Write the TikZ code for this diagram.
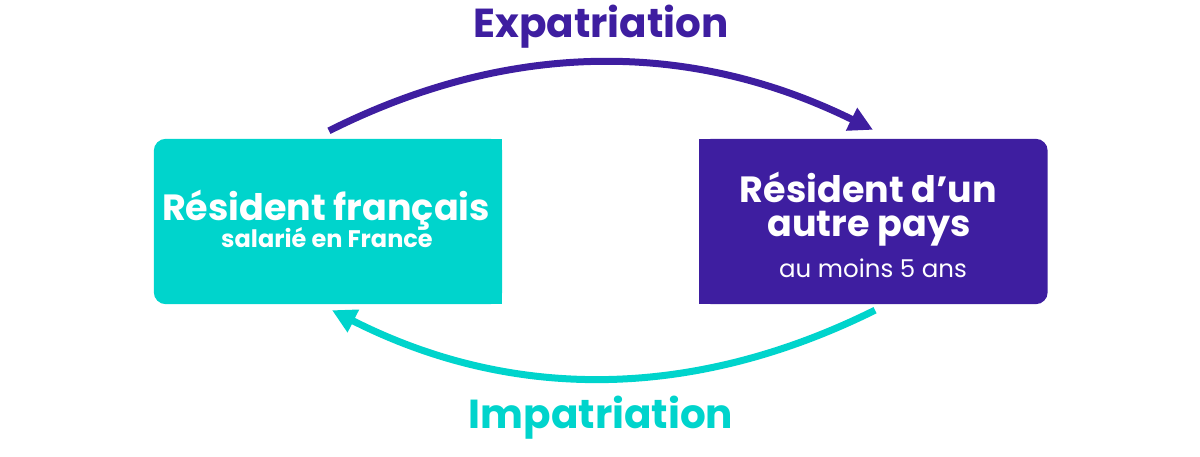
\documentclass[tikz,border=0pt]{standalone}
\usepackage{fontspec}
\setmainfont{Poppins}
\usetikzlibrary{arrows.meta}
\definecolor{tealc}{RGB}{0,212,204}
\definecolor{purpc}{RGB}{62,30,160}
\tikzset{
  boxnode/.style={minimum width=348pt, minimum height=165pt, inner sep=0pt},
  maintxt/.style={text=white, font=\bfseries\fontsize{36.5}{40}\selectfont, anchor=base, inner sep=0pt},
  subtxt/.style={text=white, font=\bfseries\fontsize{24}{28}\selectfont, anchor=base, inner sep=0pt},
  regtxt/.style={text=white, font=\fontsize{24.5}{28}\selectfont, anchor=base, inner sep=0pt},
  ttl/.style={font=\bfseries\fontsize{40.5}{44}\selectfont, anchor=base, inner sep=0pt},
  arr/.style={line width=7pt, -{Triangle[length=24pt,width=24pt]}}
}
\begin{document}
\begin{tikzpicture}[x=1pt,y=1pt]
\useasboundingbox (0,0) rectangle (1200,456);
% boxes
\node[boxnode] (L) at (328,234.5) {};
\node[boxnode] (R) at (873.5,234.5) {};
\fill[tealc, rounded corners=12pt] (L.south west) rectangle (L.north east);
\fill[tealc] (L.south) rectangle (L.north east);
\fill[purpc, rounded corners=12pt] (R.south west) rectangle (R.north east);
\fill[purpc] (R.south west) rectangle (R.north);
% texts
\node[maintxt] (l1) at (326,236) {Résident français};
\node[subtxt] (l2) at (327,208) {salarié en France};
\node[maintxt] (r1) at (868.5,254) {Résident d’un};
\node[maintxt] (r2) at (869,219) {autre pays};
\node[regtxt] (r3) at (873,179) {au moins 5 ans};
\node[ttl, text=purpc] (t1) at (601,418) {Expatriation};
\node[ttl, text=tealc] (t2) at (601,28) {Impatriation};
% connectors
\coordinate (a1) at ([xshift=1pt,yshift=8pt]L.north);
\coordinate (a2) at ([xshift=-0.5pt,yshift=9pt]R.north);
\coordinate (b1) at ([xshift=1.5pt,yshift=-6pt]R.south);
\coordinate (b2) at ([xshift=4pt,yshift=-6pt]L.south);
\draw[arr, purpc] (a1) .. controls (510,416) and (691,416) .. (a2);
\draw[arr, tealc] (b1) .. controls (692,55) and (511,55) .. (b2);
\end{tikzpicture}
\end{document}
